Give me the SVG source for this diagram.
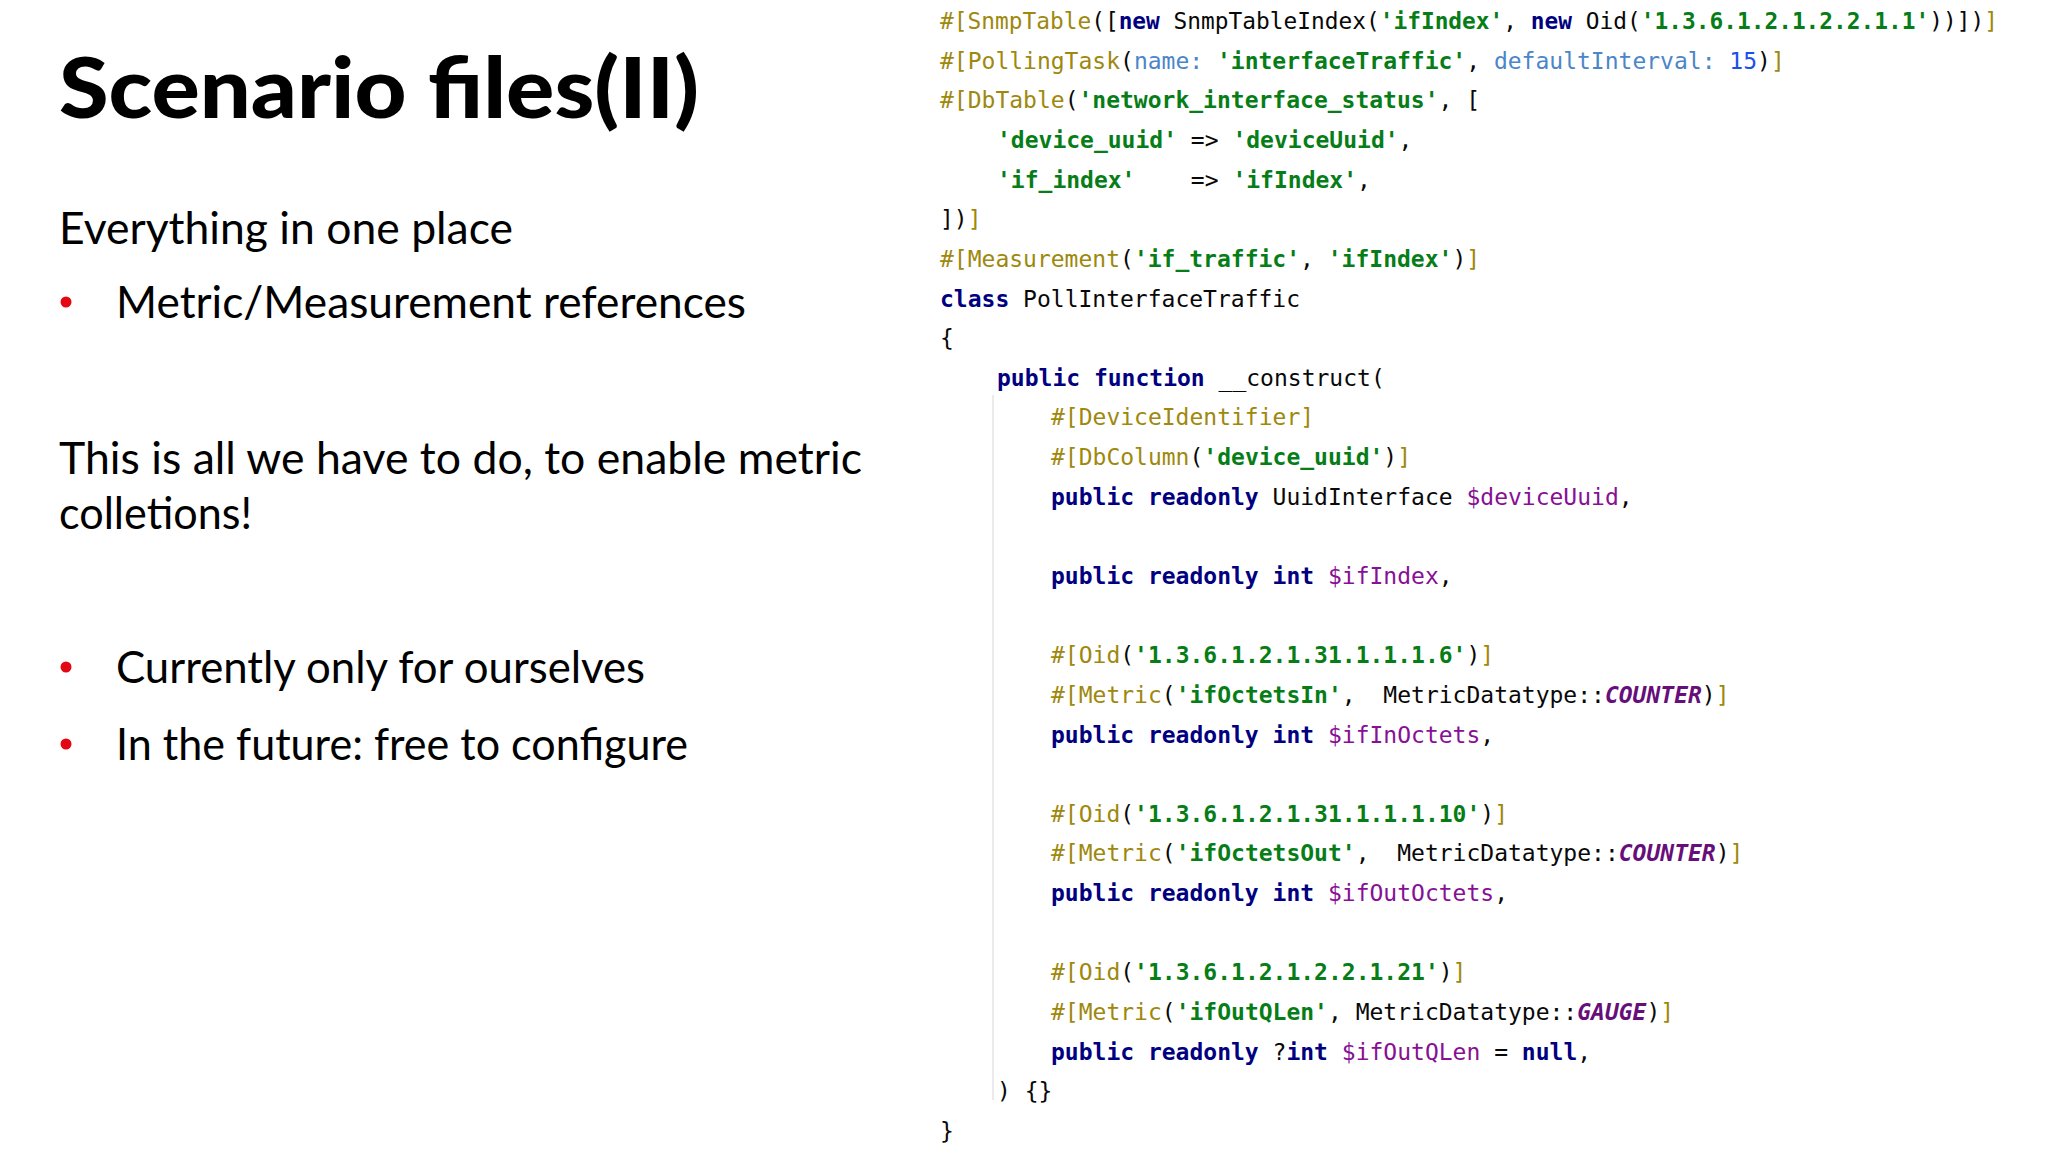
<svg xmlns="http://www.w3.org/2000/svg" width="2048" height="1152" viewBox="0 0 2048 1152">
<style>
.t{font-family:Lato,"Noto Sans","Liberation Sans",sans-serif;fill:#000}
.h{font-weight:900;font-size:84px}
.b{font-size:44px}
.code{font-family:"DejaVu Sans Mono","Liberation Mono",monospace;font-size:23px;fill:#080808;white-space:pre}
.a{fill:#9E880D}.s{fill:#067D17;font-weight:bold}.k{fill:#000080;font-weight:bold}
.n{fill:#4A86C8}.num{fill:#1750EB}.v{fill:#871094}.c{fill:#660E7A;font-style:italic;font-weight:bold}
</style>
<rect width="2048" height="1152" fill="#fff"/>
<g id="left">
<text class="t h" x="59" y="118" textLength="640" lengthAdjust="spacingAndGlyphs">Scenario files(II)</text>
<text class="t b" x="59" y="244" textLength="454" lengthAdjust="spacingAndGlyphs">Everything in one place</text>
<circle cx="66" cy="302" r="5.5" fill="#E30613"/>
<text class="t b" x="116" y="318" textLength="630" lengthAdjust="spacingAndGlyphs">Metric/Measurement references</text>
<text class="t b" x="59" y="474" textLength="803" lengthAdjust="spacingAndGlyphs">This is all we have to do, to enable metric</text>
<text class="t b" x="59" y="529" textLength="193" lengthAdjust="spacingAndGlyphs">colletions!</text>
<circle cx="66" cy="667" r="5.5" fill="#E30613"/>
<text class="t b" x="116" y="683" textLength="529" lengthAdjust="spacingAndGlyphs">Currently only for ourselves</text>
<circle cx="66" cy="744" r="5.5" fill="#E30613"/>
<text class="t b" x="116" y="760" textLength="572" lengthAdjust="spacingAndGlyphs">In the future: free to configure</text>
</g>
<g id="code" class="code">
<line x1="993" y1="395" x2="993" y2="1100" stroke="#E4E4E4" stroke-width="1.5"/>
<text xml:space="preserve" x="940" y="29" textLength="1058" lengthAdjust="spacingAndGlyphs"><tspan class="a">#[SnmpTable</tspan>([<tspan class="k">new</tspan> SnmpTableIndex(<tspan class="s">'ifIndex'</tspan>, <tspan class="k">new</tspan> Oid(<tspan class="s">'1.3.6.1.2.1.2.2.1.1'</tspan>))])<tspan class="a">]</tspan></text>
<text xml:space="preserve" x="940" y="68.6"><tspan class="a">#[PollingTask</tspan>(<tspan class="n">name: </tspan><tspan class="s">'interfaceTraffic'</tspan>, <tspan class="n">defaultInterval: </tspan><tspan class="num">15</tspan>)<tspan class="a">]</tspan></text>
<text xml:space="preserve" x="940" y="108.3"><tspan class="a">#[DbTable</tspan>(<tspan class="s">'network_interface_status'</tspan>, [</text>
<text xml:space="preserve" x="997" y="147.9"><tspan class="s">'device_uuid'</tspan> =&gt; <tspan class="s">'deviceUuid'</tspan>,</text>
<text xml:space="preserve" x="997" y="187.6"><tspan class="s">'if_index'</tspan>    =&gt; <tspan class="s">'ifIndex'</tspan>,</text>
<text xml:space="preserve" x="940" y="227.2">])<tspan class="a">]</tspan></text>
<text xml:space="preserve" x="940" y="266.8"><tspan class="a">#[Measurement</tspan>(<tspan class="s">'if_traffic'</tspan>, <tspan class="s">'ifIndex'</tspan>)<tspan class="a">]</tspan></text>
<text xml:space="preserve" x="940" y="306.5"><tspan class="k">class</tspan> PollInterfaceTraffic</text>
<text xml:space="preserve" x="940" y="346.1">{</text>
<text xml:space="preserve" x="997" y="385.8"><tspan class="k">public function</tspan> __construct(</text>
<text xml:space="preserve" x="1051" y="425.4"><tspan class="a">#[DeviceIdentifier]</tspan></text>
<text xml:space="preserve" x="1051" y="465"><tspan class="a">#[DbColumn</tspan>(<tspan class="s">'device_uuid'</tspan>)<tspan class="a">]</tspan></text>
<text xml:space="preserve" x="1051" y="504.7"><tspan class="k">public readonly</tspan> UuidInterface <tspan class="v">$deviceUuid</tspan>,</text>
<text xml:space="preserve" x="1051" y="584"><tspan class="k">public readonly int</tspan> <tspan class="v">$ifIndex</tspan>,</text>
<text xml:space="preserve" x="1051" y="663.2"><tspan class="a">#[Oid</tspan>(<tspan class="s">'1.3.6.1.2.1.31.1.1.1.6'</tspan>)<tspan class="a">]</tspan></text>
<text xml:space="preserve" x="1051" y="702.9"><tspan class="a">#[Metric</tspan>(<tspan class="s">'ifOctetsIn'</tspan>,  MetricDatatype::<tspan class="c">COUNTER</tspan>)<tspan class="a">]</tspan></text>
<text xml:space="preserve" x="1051" y="742.5"><tspan class="k">public readonly int</tspan> <tspan class="v">$ifInOctets</tspan>,</text>
<text xml:space="preserve" x="1051" y="821.8"><tspan class="a">#[Oid</tspan>(<tspan class="s">'1.3.6.1.2.1.31.1.1.1.10'</tspan>)<tspan class="a">]</tspan></text>
<text xml:space="preserve" x="1051" y="861.4"><tspan class="a">#[Metric</tspan>(<tspan class="s">'ifOctetsOut'</tspan>,  MetricDatatype::<tspan class="c">COUNTER</tspan>)<tspan class="a">]</tspan></text>
<text xml:space="preserve" x="1051" y="901"><tspan class="k">public readonly int</tspan> <tspan class="v">$ifOutOctets</tspan>,</text>
<text xml:space="preserve" x="1051" y="980.3"><tspan class="a">#[Oid</tspan>(<tspan class="s">'1.3.6.1.2.1.2.2.1.21'</tspan>)<tspan class="a">]</tspan></text>
<text xml:space="preserve" x="1051" y="1019.9"><tspan class="a">#[Metric</tspan>(<tspan class="s">'ifOutQLen'</tspan>, MetricDatatype::<tspan class="c">GAUGE</tspan>)<tspan class="a">]</tspan></text>
<text xml:space="preserve" x="1051" y="1059.6"><tspan class="k">public readonly</tspan> ?<tspan class="k">int</tspan> <tspan class="v">$ifOutQLen</tspan> = <tspan class="k">null</tspan>,</text>
<text xml:space="preserve" x="997" y="1099.2">) {}</text>
<text xml:space="preserve" x="940" y="1138.8">}</text>
</g>
</svg>
